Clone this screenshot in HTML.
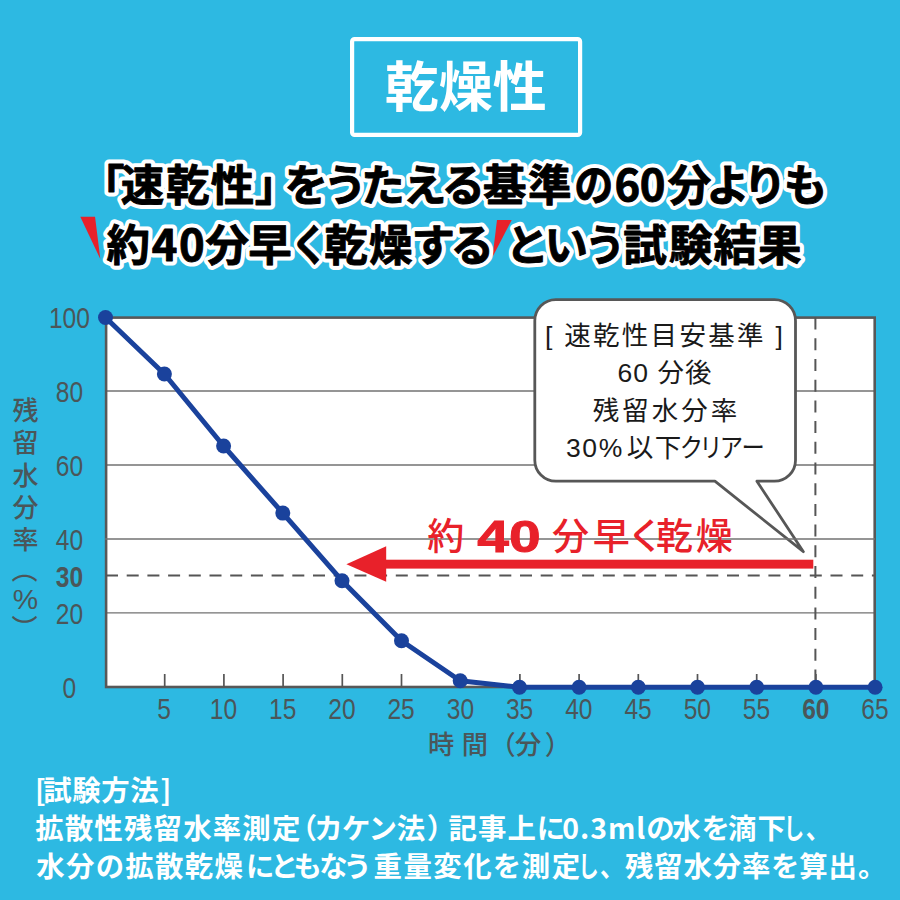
<!DOCTYPE html>
<html lang="ja">
<head>
<meta charset="utf-8">
<title>乾燥性</title>
<style>
html,body{margin:0;padding:0;}
body{width:900px;height:900px;overflow:hidden;background:#2db9e2;}
svg{display:block;}
.jp{font-family:"Liberation Sans","Noto Sans CJK JP",sans-serif;}
.cj{font-family:"Noto Sans CJK JP","Liberation Sans",sans-serif;}
.ax{font-family:"Liberation Sans","Noto Sans CJK JP",sans-serif;fill:#4b5659;}
</style>
</head>
<body>
<svg width="900" height="900" viewBox="0 0 900 900">
<rect x="0" y="0" width="900" height="900" fill="#2db9e2"/>

<!-- title box -->
<rect x="352.1" y="39.1" width="228" height="95.8" rx="2.5" ry="2.5" fill="none" stroke="#fff" stroke-width="4.2"/>
<text class="cj" x="465.8" y="107.2" font-size="54" font-weight="700" fill="#fff" text-anchor="middle">乾燥性</text>

<!-- headline -->
<polygon points="80.3,216.7 95,216.7 100.3,259" fill="#e8212a"/>
<polygon points="497,220 511.7,220 492.5,257" fill="#e8212a"/>
<g class="cj" font-size="43.5" font-weight="700" fill="#fff" stroke="#fff" stroke-width="9" stroke-linejoin="round" aria-hidden="true">
<text y="200.5"><tspan x="80.9">「</tspan><tspan x="120.8">速</tspan><tspan x="166.1">乾</tspan><tspan x="210.7">性</tspan><tspan x="254.8">」</tspan><tspan x="284.6">を</tspan><tspan x="323.5">う</tspan><tspan x="361.3">た</tspan><tspan x="403.1">え</tspan><tspan x="441.4">る</tspan><tspan x="483.0">基</tspan><tspan x="528.0">準</tspan><tspan x="574.2" textLength="38.98" lengthAdjust="spacingAndGlyphs">の</tspan><tspan x="614.5">6</tspan><tspan x="639.7">0</tspan><tspan x="667.7">分</tspan><tspan x="706.2">よ</tspan><tspan x="743.3">り</tspan><tspan x="783.7">も</tspan></text>
<text y="261"><tspan x="106.5">約</tspan><tspan x="151.7">4</tspan><tspan x="178.9">0</tspan><tspan x="205.4">分</tspan><tspan x="248.2">早</tspan><tspan x="291.0" textLength="36.98" lengthAdjust="spacingAndGlyphs">く</tspan><tspan x="324.2">乾</tspan><tspan x="369.1">燥</tspan><tspan x="411.4">す</tspan><tspan x="450.5">る</tspan><tspan x="505.6">と</tspan><tspan x="544.4">い</tspan><tspan x="585.0" textLength="40.36" lengthAdjust="spacingAndGlyphs">う</tspan><tspan x="623.2">試</tspan><tspan x="669.0">験</tspan><tspan x="713.5">結</tspan><tspan x="758.0">果</tspan></text>
</g>
<g class="cj" font-size="43.5" font-weight="700" fill="#000" stroke="#000" stroke-width="0.9" stroke-linejoin="round">
<text y="200.5"><tspan x="80.9">「</tspan><tspan x="120.8">速</tspan><tspan x="166.1">乾</tspan><tspan x="210.7">性</tspan><tspan x="254.8">」</tspan><tspan x="284.6">を</tspan><tspan x="323.5">う</tspan><tspan x="361.3">た</tspan><tspan x="403.1">え</tspan><tspan x="441.4">る</tspan><tspan x="483.0">基</tspan><tspan x="528.0">準</tspan><tspan x="574.2" textLength="38.98" lengthAdjust="spacingAndGlyphs">の</tspan><tspan x="614.5">6</tspan><tspan x="639.7">0</tspan><tspan x="667.7">分</tspan><tspan x="706.2">よ</tspan><tspan x="743.3">り</tspan><tspan x="783.7">も</tspan></text>
<text y="261"><tspan x="106.5">約</tspan><tspan x="151.7">4</tspan><tspan x="178.9">0</tspan><tspan x="205.4">分</tspan><tspan x="248.2">早</tspan><tspan x="291.0" textLength="36.98" lengthAdjust="spacingAndGlyphs">く</tspan><tspan x="324.2">乾</tspan><tspan x="369.1">燥</tspan><tspan x="411.4">す</tspan><tspan x="450.5">る</tspan><tspan x="505.6">と</tspan><tspan x="544.4">い</tspan><tspan x="585.0" textLength="40.36" lengthAdjust="spacingAndGlyphs">う</tspan><tspan x="623.2">試</tspan><tspan x="669.0">験</tspan><tspan x="713.5">結</tspan><tspan x="758.0">果</tspan></text>
</g>
<!-- plot -->
<rect x="105" y="317" width="770" height="370.5" fill="#fff"/>
<g stroke="#727272" stroke-width="1.4">
<line x1="105" y1="391" x2="875" y2="391"/>
<line x1="105" y1="465" x2="875" y2="465"/>
<line x1="105" y1="612.9" x2="875" y2="612.9"/>
</g>
<rect x="106.1" y="317.6" width="768.6" height="369.4" fill="none" stroke="#585858" stroke-width="2.6"/>
<g stroke="#555" stroke-width="1.7">
<line x1="164.7" y1="674" x2="164.7" y2="687"/>
<line x1="223.9" y1="674" x2="223.9" y2="687"/>
<line x1="283.1" y1="674" x2="283.1" y2="687"/>
<line x1="342.3" y1="674" x2="342.3" y2="687"/>
<line x1="401.5" y1="674" x2="401.5" y2="687"/>
<line x1="460.7" y1="674" x2="460.7" y2="687"/>
<line x1="519.9" y1="674" x2="519.9" y2="687"/>
<line x1="579.1" y1="674" x2="579.1" y2="687"/>
<line x1="638.3" y1="674" x2="638.3" y2="687"/>
<line x1="697.5" y1="674" x2="697.5" y2="687"/>
<line x1="756.7" y1="674" x2="756.7" y2="687"/>
<line x1="815.9" y1="674" x2="815.9" y2="687"/>
</g>
<!-- dashed -->
<line x1="106" y1="575.6" x2="875" y2="575.6" stroke="#555" stroke-width="2" stroke-dasharray="12 8.7"/>
<line x1="815.4" y1="317.6" x2="815.4" y2="687.5" stroke="#555" stroke-width="2" stroke-dasharray="12 8.7"/>

<!-- bubble -->
<path d="M555.8,299.7 H774.5 A21,21 0 0 1 795.5,320.7 V460.2 A21,21 0 0 1 774.5,481.2 H756.9 L803.4,551.7 L714.9,481.2 H555.8 A21,21 0 0 1 534.8,460.2 V320.7 A21,21 0 0 1 555.8,299.7 Z" fill="#fff" stroke="#575757" stroke-width="2.8" stroke-linejoin="round"/>
<line x1="105" y1="539" x2="875" y2="539" stroke="#727272" stroke-width="1.4"/>
<g class="jp" font-size="26.5" fill="#1a1a1a" text-anchor="middle" font-weight="400">
<text x="665" y="344.8" letter-spacing="2.3">[ 速乾性目安基準 ]</text>
<text x="665" y="382.2" letter-spacing="1">60 分後</text>
<text x="666.5" y="419.6" letter-spacing="3">残留水分率</text>
<text y="457" text-anchor="start"><tspan x="566 582.3 598.7 626.7 654.7">30%以下</tspan><tspan x="679.8" textLength="23.32" lengthAdjust="spacingAndGlyphs">ク</tspan><tspan x="699.3" textLength="23.32" lengthAdjust="spacingAndGlyphs">リ</tspan><tspan x="719.7" textLength="23.32" lengthAdjust="spacingAndGlyphs">ア</tspan><tspan x="741.5" textLength="23.32" lengthAdjust="spacingAndGlyphs">ー</tspan></text>
</g>

<!-- red arrow -->
<rect x="385" y="559.7" width="428.3" height="8.9" fill="#e8212a"/>
<polygon points="346.4,564.2 386.2,546.2 386.2,581.8" fill="#e8212a"/>
<g fill="#e8212a" class="cj" font-size="37" font-weight="500">
<text y="550" x="427.3">約</text>
<text y="550" x="552 592.7 627 656 695.8">分早く乾燥</text>
<text transform="translate(477.3 552) scale(1.31 1)" font-size="43.5" font-weight="700" font-family="'Liberation Sans',sans-serif" stroke="#e8212a" stroke-width="0.9">40</text>
</g>

<!-- data line -->
<polyline fill="none" stroke="#1a429c" stroke-width="5" stroke-linejoin="round" stroke-linecap="round" points="105.5,317.5 164.4,374.0 223.6,446.0 282.8,513.1 342.0,580.7 401.5,640.7 460.2,680.7 519.5,687.3 579.1,687.3 638.3,687.3 697.5,687.3 756.7,687.3 815.9,687.3 875.1,687.3"/>
<g fill="#1a429c">
<circle cx="105.5" cy="317.5" r="7.5"/>
<circle cx="164.4" cy="374.0" r="7.5"/>
<circle cx="223.6" cy="446.0" r="7.5"/>
<circle cx="282.8" cy="513.1" r="7.5"/>
<circle cx="342.0" cy="580.7" r="7.5"/>
<circle cx="401.5" cy="640.7" r="7.5"/>
<circle cx="460.2" cy="680.7" r="7.5"/>
<circle cx="519.5" cy="687.3" r="7.5"/>
<circle cx="579.1" cy="687.3" r="7.5"/>
<circle cx="638.3" cy="687.3" r="7.5"/>
<circle cx="697.5" cy="687.3" r="7.5"/>
<circle cx="756.7" cy="687.3" r="7.5"/>
<circle cx="815.9" cy="687.3" r="7.5"/>
<circle cx="875.1" cy="687.3" r="7.5"/>
</g>

<!-- y labels -->
<g class="ax" font-size="30.3" text-anchor="middle">
<text transform="translate(69.4 328.1) scale(0.81 1)">100</text>
<text transform="translate(69.4 402.1) scale(0.81 1)">80</text>
<text transform="translate(69.4 476.1) scale(0.81 1)">60</text>
<text transform="translate(69.4 550.1) scale(0.81 1)">40</text>
<text transform="translate(69.4 587.1) scale(0.81 1)" font-weight="700">30</text>
<text transform="translate(69.4 624.1) scale(0.81 1)">20</text>
<text transform="translate(69.4 698.1) scale(0.81 1)">0</text>
</g>
<!-- x labels -->
<g class="ax" font-size="30.3" text-anchor="middle">
<text transform="translate(164.2 719.4) scale(0.81 1)">5</text>
<text transform="translate(223.5 719.4) scale(0.81 1)">10</text>
<text transform="translate(282.7 719.4) scale(0.81 1)">15</text>
<text transform="translate(341.9 719.4) scale(0.81 1)">20</text>
<text transform="translate(401.1 719.4) scale(0.81 1)">25</text>
<text transform="translate(460.4 719.4) scale(0.81 1)">30</text>
<text transform="translate(519.6 719.4) scale(0.81 1)">35</text>
<text transform="translate(578.8 719.4) scale(0.81 1)">40</text>
<text transform="translate(638.1 719.4) scale(0.81 1)">45</text>
<text transform="translate(697.3 719.4) scale(0.81 1)">50</text>
<text transform="translate(756.5 719.4) scale(0.81 1)">55</text>
<text transform="translate(815.8 719.4) scale(0.81 1)" font-weight="700">60</text>
<text transform="translate(875.0 719.4) scale(0.81 1)">65</text>
</g>
<!-- axis titles -->
<text class="cj" font-size="26" fill="#4b5659" font-weight="500"><tspan x="12.5" y="420">残</tspan><tspan x="12.5" y="452.3">留</tspan><tspan x="12.5" y="484.5">水</tspan><tspan x="12.5" y="516.8">分</tspan><tspan x="12.5" y="549">率</tspan><tspan x="15.1" y="556.9" rotate="90">（</tspan><tspan x="12.8" y="608.9" rotate="0" font-size="28.5" font-weight="400" font-family="'Liberation Sans',sans-serif">%</tspan><tspan x="15.1" y="614.6" rotate="90">）</tspan></text>
<text class="cj" y="753.7" font-size="26.3" font-weight="500" fill="#4b5659" x="428 461.8 489.6 515 544.7">時間（分）</text>

<!-- footer -->
<g class="cj" font-size="28.4" font-weight="700" fill="#fff" style="font-feature-settings:'palt'" letter-spacing="1">
<text y="800.5"><tspan x="35">[</tspan><tspan x="43.3" letter-spacing="0.6">試験方法</tspan><tspan x="160.5">]</tspan></text>
<text y="839"><tspan x="35.2" letter-spacing="1.2">拡散性残留水率測定</tspan><tspan x="301.7">（</tspan><tspan x="315.4">カケン法</tspan><tspan x="428">）</tspan><tspan x="448.6">記事上に</tspan><tspan x="562.2">0.3mlの</tspan><tspan x="672.3">水を</tspan><tspan x="728">滴下</tspan><tspan x="784.9" letter-spacing="0" textLength="17.96" lengthAdjust="spacingAndGlyphs">し</tspan><tspan x="805.9" letter-spacing="0" textLength="12.07" lengthAdjust="spacingAndGlyphs">、</tspan></text>
<text y="876.5"><tspan x="36.2" letter-spacing="1.4">水分の拡散乾燥</tspan><tspan x="246.2" letter-spacing="-1.8">にともなう</tspan><tspan x="373.5" letter-spacing="1.5">重量変化を測定</tspan><tspan x="579.6" letter-spacing="0" textLength="17.96" lengthAdjust="spacingAndGlyphs">し</tspan><tspan x="600" letter-spacing="0" textLength="12.07" lengthAdjust="spacingAndGlyphs">、</tspan><tspan x="625" letter-spacing="0.85">残留水分率を算出。</tspan></text>
</g>
</svg>
</body>
</html>
